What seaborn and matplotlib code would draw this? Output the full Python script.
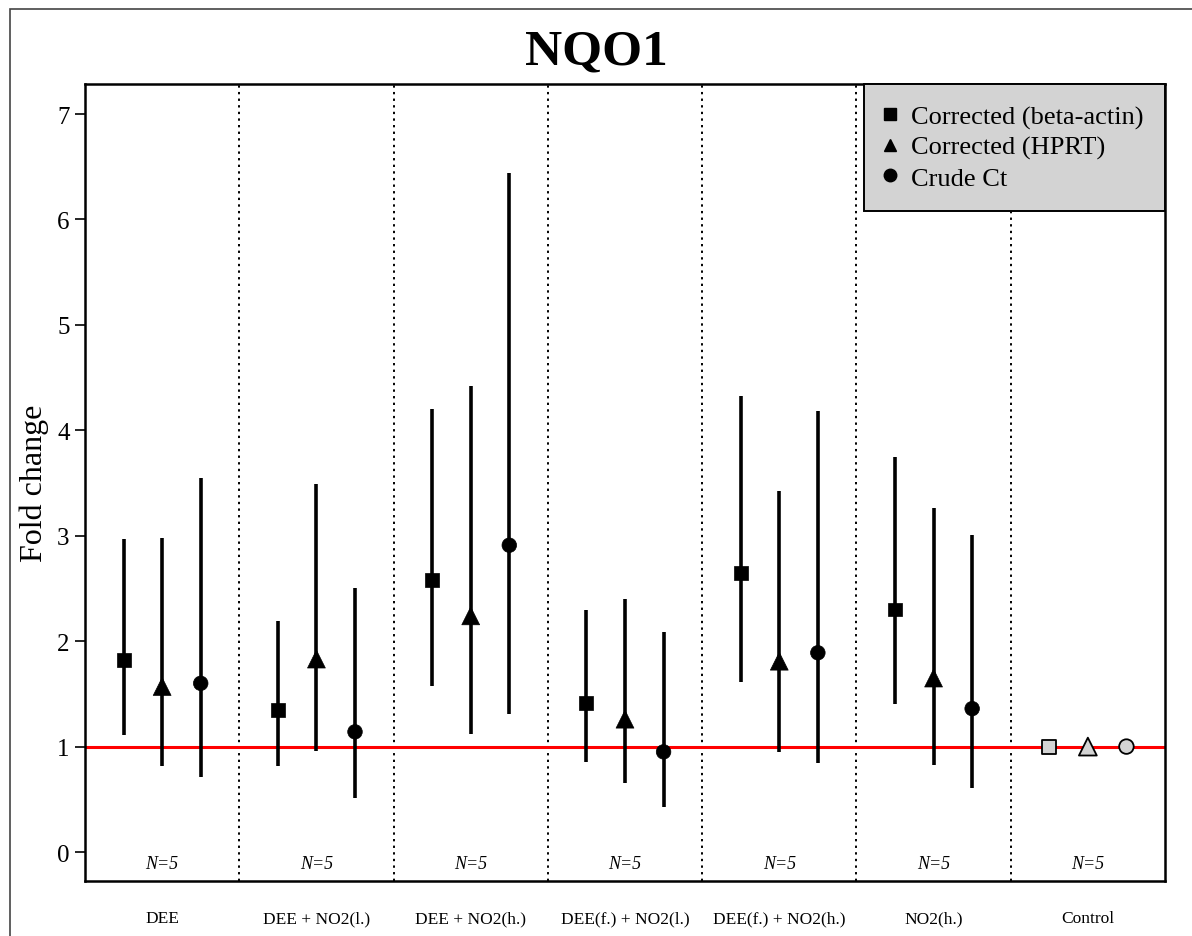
import numpy as np
import pandas as pd
import matplotlib
matplotlib.use("Agg")
import matplotlib.pyplot as plt
from matplotlib.lines import Line2D
from matplotlib.patches import Rectangle
import seaborn as sns

categories = ["DEE", "DEE + NO2(l.)", "DEE + NO2(h.)", "DEE(f.) + NO2(l.)",
              "DEE(f.) + NO2(h.)", "NO2(h.)", "Control"]
series = ["Corrected (beta-actin)", "Corrected (HPRT)", "Crude Ct"]

beta_val = [1.82, 1.35, 2.58, 1.41, 2.65, 2.30, 1.00]
beta_lo  = [1.11, 0.82, 1.57, 0.85, 1.61, 1.40, 1.00]
beta_hi  = [2.97, 2.19, 4.20, 2.30, 4.33, 3.75, 1.00]

hprt_val = [1.57, 1.83, 2.24, 1.26, 1.81, 1.65, 1.00]
hprt_lo  = [0.82, 0.96, 1.12, 0.65, 0.95, 0.83, 1.00]
hprt_hi  = [2.98, 3.49, 4.42, 2.40, 3.42, 3.26, 1.00]

crude_val = [1.60, 1.14, 2.91, 0.95, 1.89, 1.36, 1.00]
crude_lo  = [0.71, 0.51, 1.31, 0.43, 0.84, 0.61, 1.00]
crude_hi  = [3.55, 2.50, 6.44, 2.09, 4.18, 3.01, 1.00]

n_labels = ["N=5"] * 7
yticks = [0, 1, 2, 3, 4, 5, 6, 7]

rows = []
for s, (v, lo, hi) in zip(series, [(beta_val, beta_lo, beta_hi),
                                   (hprt_val, hprt_lo, hprt_hi),
                                   (crude_val, crude_lo, crude_hi)]):
    for i, c in enumerate(categories):
        rows.append(dict(category=c, idx=i, series=s, value=v[i], lo=lo[i], hi=hi[i]))
df = pd.DataFrame(rows)
offsets = {series[0]: -0.25, series[1]: 0.0, series[2]: 0.25}
df["x"] = df["idx"] + 0.5 + df["series"].map(offsets)
df["control"] = df["category"] == "Control"

sns.set_theme(style="white")
plt.rcParams["font.family"] = ["Liberation Serif", "DejaVu Serif"]
plt.rcParams["text.color"] = "black"
plt.rcParams["axes.labelcolor"] = "black"
plt.rcParams["xtick.color"] = "black"
plt.rcParams["ytick.color"] = "black"

fig = plt.figure(figsize=(11.92, 9.37), dpi=100)
ax = fig.add_axes([85/1192, 55/937, 1080/1192, 797/937])

markers = {series[0]: "s", series[1]: "^", series[2]: "o"}
msizes = {series[0]: 100, series[1]: 165, series[2]: 110}

# error bars
treat = df[~df["control"]]
ax.vlines(treat["x"], treat["lo"], treat["hi"], color="black", linewidth=2.6, zorder=3)

sns.scatterplot(data=treat, x="x", y="value", style="series", markers=markers,
                size="series", sizes=msizes,
                color="black", edgecolor="black", linewidth=0.5,
                legend=False, ax=ax, zorder=4)
ctrl = df[df["control"]]
sns.scatterplot(data=ctrl, x="x", y="value", style="series", markers=markers,
                size="series", sizes=msizes,
                color="#d3d3d3", edgecolor="black", linewidth=1.3,
                legend=False, ax=ax, zorder=4)

ax.axhline(1, color="red", linewidth=2.2, zorder=2)
for b in range(1, len(categories)):
    ax.axvline(b, color="black", linestyle=(0, (1.2, 2.2)), linewidth=1.4, zorder=1)

for i, t in enumerate(n_labels):
    ax.text(i + 0.5, -0.11, t, ha="center", va="center",
            fontsize=13, style="italic", color="black")

ax.set_xlim(0, len(categories))
ax.set_ylim(-0.275, 7.285)
ax.set_xticks(np.arange(len(categories)) + 0.5)
ax.set_xticklabels(categories, fontsize=12.5)
ax.tick_params(axis="x", length=0, pad=21)
ax.set_yticks(yticks)
ax.set_yticklabels([str(t) for t in yticks], fontsize=18)
ax.tick_params(axis="y", left=True, length=7, width=1.2, color="black", pad=4)
ax.set_xlabel("")
ax.set_ylabel("Fold change", fontsize=23, labelpad=6)
for sp in ax.spines.values():
    sp.set_color("black")
    sp.set_linewidth(1.8)
    sp.set_visible(True)
ax.grid(False)

fig.suptitle("NQO1", fontsize=37, fontweight="bold", y=1 - 53/937, va="center",
             color="black")

handles = [Line2D([], [], linestyle="none", marker=markers[s], color="black",
                  markersize=9) for s in series]
leg = ax.legend(handles, series, loc="upper right", fontsize=19, frameon=True,
                fancybox=False, borderaxespad=0, handletextpad=0.6,
                borderpad=0.8, labelspacing=0.25, handlelength=0.4)
leg.get_frame().set_facecolor("#d3d3d3")
leg.get_frame().set_edgecolor("black")
leg.get_frame().set_linewidth(1.4)
leg.get_frame().set_alpha(1)

fig.patches.append(Rectangle((10/1192, -0.1), 1.2, 1.1 - 10/937,
                             transform=fig.transFigure, fill=False,
                             edgecolor="#444444", linewidth=1.2, zorder=0))

fig.savefig("out.png", dpi=100, facecolor="white")
